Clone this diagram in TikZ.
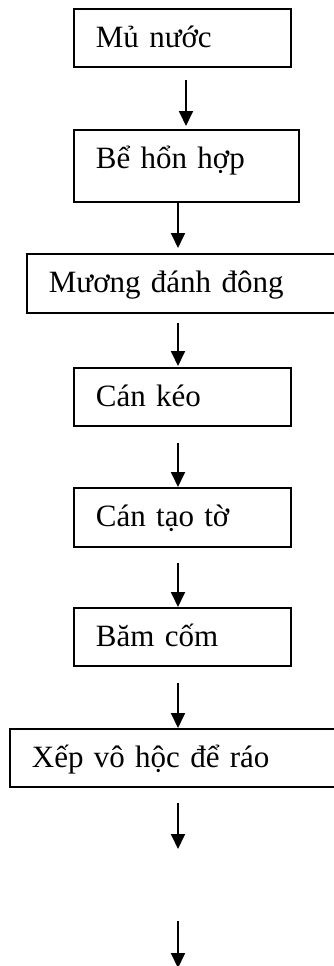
\documentclass[tikz,border=0pt]{standalone}
\usepackage{fontspec}
\setmainfont{Liberation Serif}
\usetikzlibrary{arrows.meta}
\begin{document}
\begin{tikzpicture}[x=1pt,y=-1pt,
  stepbox/.style={draw, line width=1.8pt, anchor=north west,
    inner xsep=22pt, inner ysep=0pt, align=left,
    font=\fontsize{31}{37}\selectfont,
    text width=#1, text height=39pt, text depth=19pt},
  flow/.style={line width=1.8pt, -{Triangle[length=15pt,width=14pt]}}]
\useasboundingbox (0,0) rectangle (334,966);
\clip (0,0) rectangle (334,966);
\fill[white] (0,0) rectangle (334,966);

% process steps
\node[stepbox=173pt] (b1) at (73,8) {Mủ nước};
\node[stepbox=181pt, text depth=33pt] (b2) at (73,129) {Bể hổn hợp};
\node[stepbox=300pt, text depth=20pt] (b3) at (26,253) {Mương đánh đông};
\node[stepbox=173pt] (b4) at (73,367) {Cán kéo};
\node[stepbox=173pt, text depth=20pt] (b5) at (73,487) {Cán tạo tờ};
\node[stepbox=173pt] (b6) at (73,607) {Băm cốm};
\node[stepbox=330pt] (b7) at (9,728) {Xếp vô hộc để ráo};

% arrow columns and free ends
\coordinate (ax1) at (186,0);
\coordinate (ax) at (178,0);
\coordinate (e7) at (178,849);
\coordinate (s8) at (178,921);
\coordinate (e8) at (178,968);

% connectors
\draw[flow, shorten <=12pt, shorten >=3pt] (b1.south -| ax1) -- (b2.north -| ax1);
\draw[flow, shorten >=5pt] (b2.south -| ax) -- (b3.north -| ax);
\draw[flow, shorten <=9pt, shorten >=1pt] (b3.south -| ax) -- (b4.north -| ax);
\draw[flow, shorten <=16pt] (b4.south -| ax) -- (b5.north -| ax);
\draw[flow, shorten <=15pt] (b5.south -| ax) -- (b6.north -| ax);
\draw[flow, shorten <=16pt] (b6.south -| ax) -- (b7.north -| ax);
\draw[flow, shorten <=15pt] (b7.south -| ax) -- (e7);
\draw[flow] (s8) -- (e8);
\end{tikzpicture}
\end{document}
